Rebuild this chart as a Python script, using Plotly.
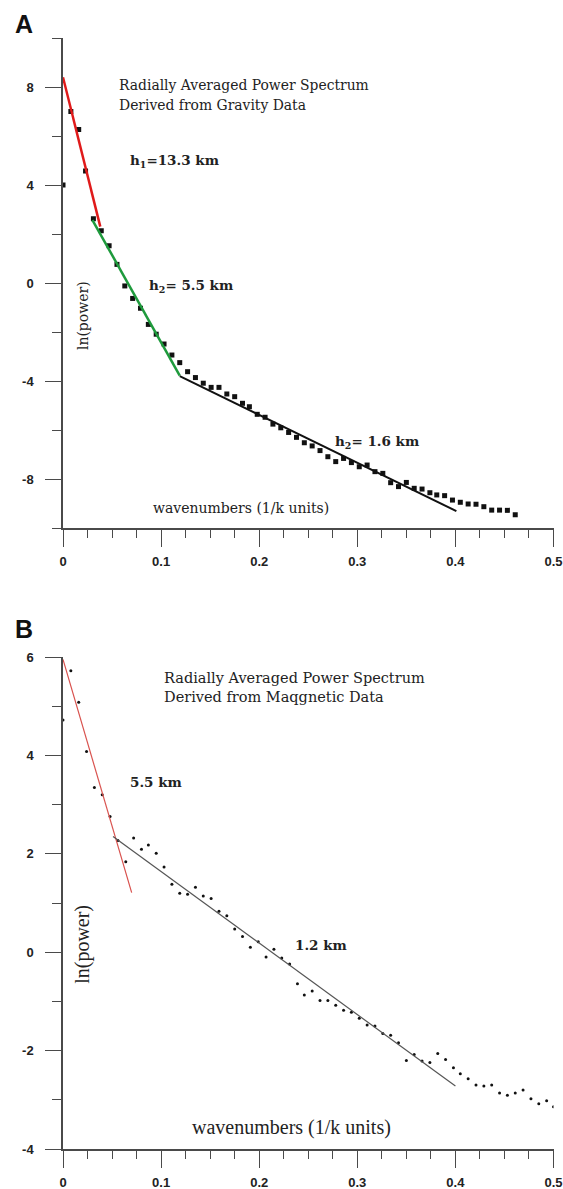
import plotly.graph_objects as go

# ---- Panel A: gravity spectrum ----
grav_k = [0.000, 0.008, 0.016, 0.023, 0.031, 0.039, 0.047, 0.055, 0.063, 0.071,
          0.079, 0.087, 0.095, 0.103, 0.111, 0.119, 0.127, 0.135, 0.143, 0.151,
          0.159, 0.167, 0.175, 0.183, 0.190, 0.198, 0.206, 0.214, 0.222, 0.230,
          0.238, 0.246, 0.254, 0.262, 0.270, 0.278, 0.286, 0.294, 0.302, 0.310,
          0.318, 0.326, 0.334, 0.342, 0.350, 0.358, 0.366, 0.374, 0.381, 0.389,
          0.397, 0.405, 0.413, 0.421, 0.429, 0.437, 0.445, 0.453, 0.461]
grav_lnp = [4.00, 7.00, 6.27, 4.57, 2.62, 2.13, 1.52, 0.76, -0.12, -0.63,
            -1.03, -1.69, -2.09, -2.49, -2.94, -3.25, -3.62, -3.86, -4.09, -4.26,
            -4.26, -4.53, -4.64, -4.91, -5.05, -5.36, -5.48, -5.76, -5.91, -6.10,
            -6.30, -6.52, -6.65, -6.84, -7.09, -7.29, -7.16, -7.33, -7.50, -7.43,
            -7.70, -7.77, -8.15, -8.31, -8.14, -8.38, -8.41, -8.56, -8.65, -8.68,
            -8.86, -8.95, -9.02, -9.03, -9.13, -9.27, -9.27, -9.28, -9.46]

# straight-line segments (deep / intermediate / shallow sources)
grav_deep_k = [0.000, 0.038]
grav_deep_lnp = [8.40, 2.30]
grav_mid_k = [0.030, 0.119]
grav_mid_lnp = [2.57, -3.78]
grav_shallow_k = [0.119, 0.401]
grav_shallow_lnp = [-3.80, -9.31]

# ---- Panel B: magnetic spectrum ----
mag_k = [0.000, 0.008, 0.016, 0.024, 0.032, 0.040, 0.048, 0.056, 0.064, 0.072,
         0.080, 0.087, 0.095, 0.103, 0.111, 0.119, 0.127, 0.135, 0.143, 0.151,
         0.159, 0.167, 0.175, 0.183, 0.191, 0.199, 0.207, 0.215, 0.223, 0.231,
         0.239, 0.246, 0.254, 0.262, 0.270, 0.278, 0.286, 0.294, 0.302, 0.310,
         0.318, 0.326, 0.334, 0.342, 0.350, 0.358, 0.366, 0.374, 0.382, 0.390,
         0.398, 0.405, 0.413, 0.421, 0.429, 0.437, 0.445, 0.453, 0.461, 0.469,
         0.477, 0.485, 0.493, 0.500]
mag_lnp = [4.72, 5.72, 5.08, 4.08, 3.35, 3.20, 2.76, 2.27, 1.84, 2.32,
           2.09, 2.18, 2.01, 1.73, 1.38, 1.20, 1.18, 1.32, 1.14, 1.09,
           0.83, 0.74, 0.47, 0.32, 0.10, 0.21, -0.10, 0.06, -0.12, -0.24,
           -0.64, -0.87, -0.79, -0.98, -0.98, -1.08, -1.18, -1.22, -1.34, -1.48,
           -1.50, -1.65, -1.69, -1.84, -2.20, -2.08, -2.21, -2.24, -2.06, -2.18,
           -2.35, -2.47, -2.57, -2.70, -2.72, -2.70, -2.86, -2.91, -2.86, -2.80,
           -2.98, -3.08, -3.02, -3.14]

mag_deep_k = [0.000, 0.070]
mag_deep_lnp = [5.95, 1.21]
mag_shallow_k = [0.051, 0.400]
mag_shallow_lnp = [2.35, -2.72]

# tick positions and labels
k_ticks = [0, 0.1, 0.2, 0.3, 0.4, 0.5]
k_labels = ["0", "0.1", "0.2", "0.3", "0.4", "0.5"]
grav_ticks = [-8, -4, 0, 4, 8]
grav_labels = ["-8", "-4", "0", "4", "8"]
mag_ticks = [-4, -2, 0, 2, 4, 6]
mag_labels = ["-4", "-2", "0", "2", "4", "6"]

W, H = 563, 1189
AX = "#4a4a4a"
SERIF = "DejaVu Serif"

fig = go.Figure()

# panel A traces
fig.add_trace(go.Scatter(x=grav_k, y=grav_lnp, mode="markers",
                         marker=dict(symbol="square", size=5, color="#111"),
                         xaxis="x", yaxis="y"))
fig.add_trace(go.Scatter(x=grav_deep_k, y=grav_deep_lnp, mode="lines",
                         line=dict(color="#e01a1a", width=2.5), xaxis="x", yaxis="y"))
fig.add_trace(go.Scatter(x=grav_mid_k, y=grav_mid_lnp, mode="lines",
                         line=dict(color="#1e9a3c", width=2.5), xaxis="x", yaxis="y"))
fig.add_trace(go.Scatter(x=grav_shallow_k, y=grav_shallow_lnp, mode="lines",
                         line=dict(color="#111", width=2), xaxis="x", yaxis="y"))

# panel B traces
fig.add_trace(go.Scatter(x=mag_k, y=mag_lnp, mode="markers",
                         marker=dict(symbol="circle", size=3, color="#111"),
                         xaxis="x2", yaxis="y2"))
fig.add_trace(go.Scatter(x=mag_deep_k, y=mag_deep_lnp, mode="lines",
                         line=dict(color="#d9534f", width=1.2), xaxis="x2", yaxis="y2"))
fig.add_trace(go.Scatter(x=mag_shallow_k, y=mag_shallow_lnp, mode="lines",
                         line=dict(color="#555", width=1.2), xaxis="x2", yaxis="y2"))

tickfont = dict(family="Liberation Sans", size=13, color="#222", weight="bold")

def xax(anchor):
    return dict(range=[0, 0.5], domain=[63 / W, 553.5 / W], anchor=anchor,
                automargin=False,
                showline=True, linecolor=AX, linewidth=1.5,
                ticks="outside", ticklen=17, tickwidth=1.3, tickcolor=AX,
                tickmode="array", tickvals=k_ticks, ticktext=k_labels,
                minor=dict(ticks="outside", ticklen=8, tickwidth=1.3,
                           tickcolor=AX, dtick=0.025, tick0=0),
                ticklabelstandoff=4,
                showgrid=False, zeroline=False, tickfont=tickfont)

def yax(anchor, rng, vals, labels, minor, dom):
    return dict(range=rng, domain=dom, anchor=anchor,
                automargin=False,
                showline=True, linecolor=AX, linewidth=1.5,
                ticks="outside", ticklen=16, tickwidth=1.3, tickcolor=AX,
                tickmode="array", tickvals=vals, ticktext=labels,
                minor=dict(ticks="outside", ticklen=9, tickwidth=1.3,
                           tickcolor=AX, dtick=minor, tick0=0),
                ticklabelstandoff=9,
                showgrid=False, zeroline=False, tickfont=tickfont)

ann = []

def text(x, y, s, size, xref, yref, family=SERIF, weight="normal",
         xanchor="left", angle=0, color="#222"):
    ann.append(dict(x=x, y=y, xref=xref, yref=yref, text=s, showarrow=False,
                    xanchor=xanchor, yanchor="middle", textangle=angle,
                    font=dict(family=family, size=size, color=color, weight=weight)))

# panel A labels
text(0.055, 8.08, "Radially Averaged Power Spectrum", 13.9, "x", "y")
text(0.055, 7.27, "Derived from Gravity Data", 13.9, "x", "y")
text(0.066, 4.98, "h<sub>1</sub>=13.3 km", 13.5, "x", "y", weight="bold")
text(0.086, -0.12, "h<sub>2</sub>= 5.5 km", 13.5, "x", "y", weight="bold")
text(0.275, -6.49, "h<sub>2</sub>= 1.6 km", 13.5, "x", "y", weight="bold")
text(0.090, -9.18, "wavenumbers (1/k units)", 14, "x", "y")
text(0.0204, -1.35, "ln(power)", 14, "x", "y", xanchor="center", angle=-90)

# panel B labels
text(0.101, 5.575, "Radially Averaged Power Spectrum", 14.5, "x2", "y2")
text(0.101, 5.19, "Derived from Maqgnetic Data", 14.5, "x2", "y2")
text(0.066, 3.46, "5.5 km", 13.5, "x2", "y2", weight="bold")
text(0.234, 0.15, "1.2 km", 13.5, "x2", "y2", weight="bold")
text(0.129, -3.57, "wavenumbers (1/k units)", 20, "x2", "y2",
     family="Liberation Serif")
text(0.0204, 0.15, "ln(power)", 20, "x2", "y2", family="Liberation Serif",
     xanchor="center", angle=-90)

# panel letters
ann.append(dict(x=13 / W, y=1 - 24 / H, xref="paper", yref="paper", text="A",
                showarrow=False, xanchor="left", yanchor="middle",
                font=dict(family="Liberation Sans", size=25, color="#111", weight="bold")))
ann.append(dict(x=13 / W, y=1 - 629 / H, xref="paper", yref="paper", text="B",
                showarrow=False, xanchor="left", yanchor="middle",
                font=dict(family="Liberation Sans", size=25, color="#111", weight="bold")))

fig.update_layout(
    width=W, height=H,
    margin=dict(l=0, r=0, t=0, b=0, autoexpand=False),
    paper_bgcolor="white", plot_bgcolor="white",
    showlegend=False,
    xaxis=xax("y"),
    yaxis=yax("x", [-10, 10], grav_ticks, grav_labels, 2, [1 - 528 / H, 1 - 38 / H]),
    xaxis2=xax("y2"),
    yaxis2=yax("x2", [-4, 6], mag_ticks, mag_labels, 1, [1 - 1149 / H, 1 - 657 / H]),
    annotations=ann,
)

# the page body gets no margin so the figure fills the window exactly
fig.write_html("out.html",
               post_script="document.body.style.margin='0';"
                           "document.body.style.overflow='hidden';")
